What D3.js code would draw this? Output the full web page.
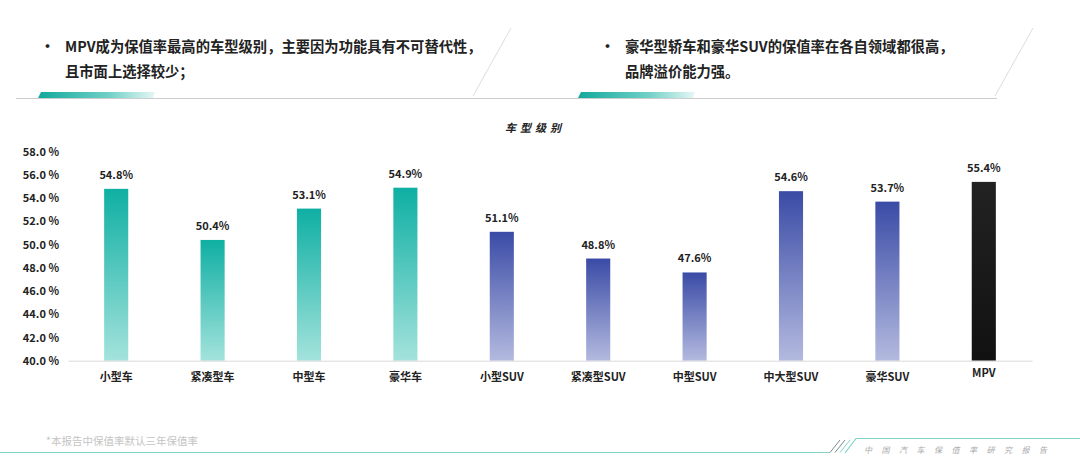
<!DOCTYPE html>
<html><head><meta charset="utf-8">
<script src="https://cdn.jsdelivr.net/npm/d3@7"></script>
<style>
html,body{margin:0;padding:0;background:#fff;}
svg{display:block;font-family:"Noto Sans CJK SC","Noto Sans",sans-serif;}
</style></head><body>
<svg id="c" width="1080" height="464"></svg>
<script>
const categories = ["小型车","紧凑型车","中型车","豪华车","小型SUV","紧凑型SUV","中型SUV","中大型SUV","豪华SUV","MPV"];
const values = [54.8,50.4,53.1,54.9,51.1,48.8,47.6,54.6,53.7,55.4];
const groups = ["car","car","car","car","suv","suv","suv","suv","suv","mpv"];
const yTicks = [40,42,44,46,48,50,52,54,56,58];
const chartTitle = "车型级别";
const note1 = ["MPV成为保值率最高的车型级别，主要因为功能具有不可替代性，","且市面上选择较少；"];
const note2 = ["豪华型轿车和豪华SUV的保值率在各自领域都很高，","品牌溢价能力强。"];
const footnote = "*本报告中保值率默认三年保值率";
const brand = "中国汽车保值率研究报告";

const svg = d3.select("#c");
const defs = svg.append("defs");
function lg(id, stops, x1=0,y1=0,x2=0,y2=1){
  const g = defs.append("linearGradient").attr("id",id).attr("x1",x1).attr("y1",y1).attr("x2",x2).attr("y2",y2);
  stops.forEach(s=>g.append("stop").attr("offset",s[0]).attr("stop-color",s[1]).attr("stop-opacity",s[2]===undefined?1:s[2]));
}
lg("gcar",[[0,"#0fafa3"],[1,"#a3e3dc"]]);
lg("gsuv",[[0,"#3a4ba6"],[1,"#b3badf"]]);
lg("gmpv",[[0,"#222222"],[1,"#111111"]]);
lg("tealbar",[[0,"#12a99c"],[0.6,"#6fd0c6"],[1,"#e6f7f5"]],0,0,1,0);
lg("topline",[[0,"#3dbfb1",0],[1,"#3dbfb1",1]],0,0,1,0);

// header
svg.append("line").attr("x1",16).attr("x2",997).attr("y1",98.5).attr("y2",98.5).attr("stroke","#cccccc").attr("stroke-width",1);
function panel(barX, textX, lines, topStart, tx){
  svg.append("path").attr("d",`M${barX+3},92 L${barX+117},92 L${barX+115},98 L${barX},98 Z`).attr("fill","url(#tealbar)");
  svg.append("line").attr("x1",topStart).attr("x2",tx).attr("y1",28).attr("y2",28).attr("stroke","url(#topline)").attr("stroke-width",1.5);
  svg.append("path").attr("d",`M${tx},28 L${tx-38},96`).attr("stroke","#d8dede").attr("stroke-width",1).attr("fill","none");
  svg.append("text").attr("x",textX-25).attr("y",52).attr("font-size",15).attr("font-weight",700).attr("fill","#222").text("•");
  lines.forEach((l,i)=>svg.append("text").attr("x",textX).attr("y",52+i*25).attr("font-size",14.3).attr("font-weight",700).attr("fill","#222").text(l));
}
panel(38,65,note1,410,511);
panel(578,625,note2,930,1033);

// chart
const x = d3.scaleBand().domain(categories).range([68,1032]).paddingInner(0.75).paddingOuter(0.375);
const y = d3.scaleLinear().domain([40,58]).range([360.7,151.7]);

svg.append("text").attr("x",535).attr("y",132).attr("text-anchor","middle").attr("font-size",11).attr("font-weight",700)
  .attr("font-style","italic").attr("letter-spacing","4px").attr("fill","#222").text(chartTitle);

const yAxis = svg.append("g").attr("transform","translate(59,0)")
  .call(d3.axisLeft(y).tickValues(yTicks).tickSize(0).tickPadding(0).tickFormat(d=>d3.format(".1f")(d)+" %"));
yAxis.select(".domain").remove();
yAxis.selectAll("text").attr("font-size",11).attr("font-weight",600).attr("fill","#222").attr("font-family","'Noto Sans CJK SC',sans-serif");

const fills = {car:"url(#gcar)",suv:"url(#gsuv)",mpv:"url(#gmpv)"};
svg.selectAll("rect.bar").data(categories).join("rect").attr("class","bar")
  .attr("x",d=>x(d)).attr("width",x.bandwidth())
  .attr("y",(d,i)=>y(values[i])).attr("height",(d,i)=>y(40)-y(values[i]))
  .attr("fill",(d,i)=>fills[groups[i]]);

svg.selectAll("text.val").data(categories).join("text").attr("class","val")
  .attr("x",d=>x(d)+x.bandwidth()/2).attr("y",(d,i)=>y(values[i])-10)
  .attr("text-anchor","middle").attr("font-size",11).attr("font-weight",700).attr("fill","#222")
  .text((d,i)=>d3.format(".1f")(values[i])+"%");

const xAxis = svg.append("g").attr("transform",`translate(0,${y(40)})`)
  .call(d3.axisBottom(x).tickSize(0).tickPadding(13));
xAxis.select(".domain").attr("stroke","#d9d9d9").attr("stroke-width",1);
xAxis.selectAll("text").attr("font-size",11).attr("font-weight",700).attr("fill","#222").attr("font-family","'Noto Sans CJK SC',sans-serif");
xAxis.selectAll(".tick").filter(d=>d==="MPV").select("text").attr("dy","0.3em");

// footer
svg.append("text").attr("x",46).attr("y",445).attr("font-size",10.5).attr("fill","#c4c4c4").text(footnote);
svg.append("line").attr("x1",0).attr("x2",830).attr("y1",452.5).attr("y2",452.5).attr("stroke","#7fd3c9").attr("stroke-width",1.2);
[[830,837],[835,842],[840,847]].forEach(([a,b],i)=>svg.append("line").attr("x1",b+3).attr("y1",440).attr("x2",a).attr("y2",452.5).attr("stroke",i<2?"#7a8a8a":"#7fd3c9").attr("stroke-width",1));
svg.append("path").attr("d","M845,453 L856,438.5 L1080,438.5").attr("stroke","#7fd3c9").attr("stroke-width",1.2).attr("fill","none");
svg.append("text").attr("x",864).attr("y",453).attr("font-size",8).attr("font-style","italic").attr("letter-spacing","9.5px").attr("fill","#aaa").text(brand);
</script>
</body></html>
